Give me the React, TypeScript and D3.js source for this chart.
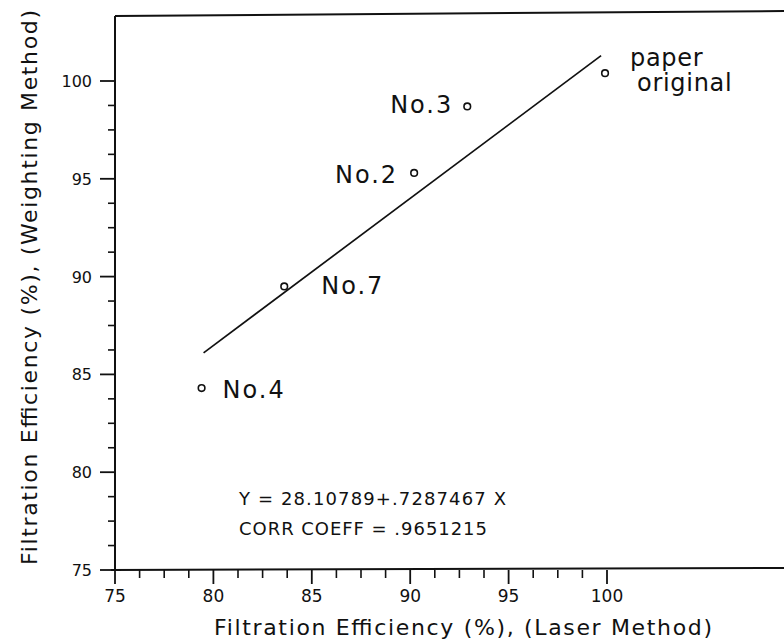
import React, { useEffect, useRef } from "react";
import * as d3 from "d3";

// samples: laser method (x) vs weighting method (y)
const samples = ["paper original", "No.3", "No.2", "No.7", "No.4"];
const laserValues = [99.9, 92.9, 90.2, 83.6, 79.4];
const weightValues = [100.4, 98.7, 95.3, 89.5, 84.3];

// fitted line as drawn on the figure (ends)
const fitX = [79.5, 99.7];
const fitY = [86.1, 101.3];

const xTicks = [75, 80, 85, 90, 95, 100];
const yTicks = [75, 80, 85, 90, 95, 100];

const equationLines = ["Y = 28.10789+.7287467 X", "CORR COEFF = .9651215"];

// label offsets from each point, px: [dx, dy, anchor]
const labelOffsets: [number, number, string][] = [
  [25, -7, "start"],
  [-14, 7, "end"],
  [-16, 10, "end"],
  [37, 8, "start"],
  [21, 10, "start"],
];

export default function App() {
  const ref = useRef<SVGSVGElement>(null);

  useEffect(() => {
    const W = 784;
    const H = 640;
    const svg = d3.select(ref.current);
    svg.selectAll("*").remove();

    const x = d3.scaleLinear().domain([75, 100]).range([115, 607]);
    const y = d3.scaleLinear().domain([75, 100]).range([570, 81]);

    const ink = "#111";
    const sans = "'DejaVu Sans', sans-serif";

    // frame: top, left, bottom lines (the box runs past the right edge)
    const top = 14;
    svg.append("line").attr("x1", x(75)).attr("x2", W).attr("y1", top + 2).attr("y2", top - 3)
      .attr("stroke", ink).attr("stroke-width", 2);
    svg.append("line").attr("x1", x(75)).attr("x2", x(75)).attr("y1", top + 2).attr("y2", y(75))
      .attr("stroke", ink).attr("stroke-width", 2);
    svg.append("line").attr("x1", x(75) - 4).attr("x2", W).attr("y1", y(75)).attr("y2", y(75) - 2)
      .attr("stroke", ink).attr("stroke-width", 2);

    const minor = d3.range(75, 100.01, 1.25).filter((v) => v % 5 !== 0);

    // x ticks, downward
    const gx = svg.append("g");
    gx.selectAll("line.maj").data(xTicks).join("line")
      .attr("x1", (d) => x(d)).attr("x2", (d) => x(d))
      .attr("y1", y(75)).attr("y2", y(75) + 14)
      .attr("stroke", ink).attr("stroke-width", 1.8);
    gx.selectAll("line.min").data(minor).join("line")
      .attr("x1", (d) => x(d)).attr("x2", (d) => x(d))
      .attr("y1", y(75)).attr("y2", y(75) + 8)
      .attr("stroke", ink).attr("stroke-width", 1.6);
    gx.selectAll("text").data(xTicks).join("text")
      .attr("x", (d) => x(d)).attr("y", y(75) + 32)
      .attr("text-anchor", "middle")
      .attr("font-family", sans).attr("font-size", 17)
      .attr("fill", ink)
      .text((d) => d);

    // y ticks, leftward
    const gy = svg.append("g");
    gy.selectAll("line.maj").data(yTicks).join("line")
      .attr("x1", x(75) - 15).attr("x2", x(75))
      .attr("y1", (d) => y(d)).attr("y2", (d) => y(d))
      .attr("stroke", ink).attr("stroke-width", 1.8);
    gy.selectAll("line.min").data(minor).join("line")
      .attr("x1", x(75) - 7).attr("x2", x(75))
      .attr("y1", (d) => y(d)).attr("y2", (d) => y(d))
      .attr("stroke", ink).attr("stroke-width", 1.6);
    gy.selectAll("text").data(yTicks).join("text")
      .attr("x", x(75) - 23).attr("y", (d) => y(d) + 6)
      .attr("text-anchor", "end")
      .attr("font-family", sans).attr("font-size", 16)
      .attr("fill", ink)
      .text((d) => d);

    // axis titles
    svg.append("text")
      .attr("x", 214).attr("y", 635)
      .attr("font-family", sans).attr("font-size", 22)
      .attr("textLength", 498).attr("lengthAdjust", "spacing")
      .attr("fill", ink)
      .text("Filtration Efficiency (%), (Laser Method)");
    svg.append("text")
      .attr("transform", "translate(37,565) rotate(-90)")
      .attr("font-family", sans).attr("font-size", 22)
      .attr("textLength", 555).attr("lengthAdjust", "spacing")
      .attr("fill", ink)
      .text("Filtration Efficiency (%), (Weighting Method)");

    // fitted line
    const line = d3.line<number>().x((_, i) => x(fitX[i])).y((_, i) => y(fitY[i]));
    svg.append("path").attr("d", line(fitX)).attr("fill", "none")
      .attr("stroke", ink).attr("stroke-width", 1.7);

    // points
    svg.selectAll("circle").data(samples).join("circle")
      .attr("cx", (_, i) => x(laserValues[i]))
      .attr("cy", (_, i) => y(weightValues[i]))
      .attr("r", 3.3).attr("fill", "#fff").attr("stroke", ink).attr("stroke-width", 1.6);

    // point labels
    samples.forEach((s, i) => {
      const [dx, dy, anchor] = labelOffsets[i];
      const t = svg.append("text")
        .attr("x", x(laserValues[i]) + dx).attr("y", y(weightValues[i]) + dy)
        .attr("text-anchor", anchor)
        .attr("font-family", sans).attr("font-size", 24)
        .attr("fill", ink);
      if (s.startsWith("paper")) {
        const parts = s.split(" ");
        t.attr("letter-spacing", 0.7);
        t.append("tspan").attr("x", x(laserValues[i]) + dx).text(parts[0]);
        t.append("tspan").attr("x", x(laserValues[i]) + dx + 7).attr("dy", 25).text(parts[1]);
      } else {
        t.attr("letter-spacing", 2).text(s);
      }
    });

    // equation
    const eqLen = [267, 248];
    svg.selectAll("text.eq").data(equationLines).join("text")
      .attr("class", "eq")
      .attr("x", x(81.3)).attr("y", (_, i) => y(78.3) + i * 30)
      .attr("font-family", sans).attr("font-size", 18)
      .attr("textLength", (_, i) => eqLen[i]).attr("lengthAdjust", "spacing")
      .attr("fill", ink)
      .text((d) => d);

    svg.attr("width", W).attr("height", H);
  }, []);

  return (
    <svg
      ref={ref}
      width={784}
      height={640}
      style={{ position: "absolute", left: 0, top: 0, background: "#fff" }}
    />
  );
}
